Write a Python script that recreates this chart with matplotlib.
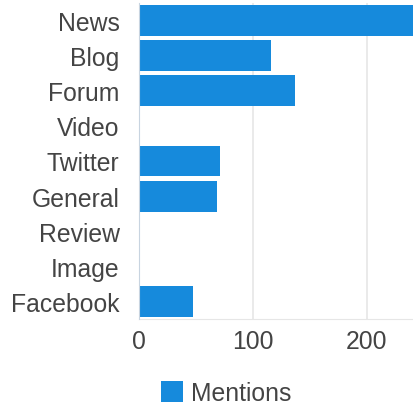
import matplotlib
matplotlib.use("Agg")
import matplotlib.pyplot as plt

plt.rcParams['font.family'] = ['Liberation Sans', 'DejaVu Sans']

categories = ['News', 'Blog', 'Forum', 'Video', 'Twitter', 'General', 'Review', 'Image', 'Facebook']
mentions = [260, 116, 137, 0, 71, 68, 0, 0, 47]
xticks = [0, 100, 200]

bar_color = '#168ADC'
text_color = '#444444'

fig = plt.figure(figsize=(4.13, 4.06), dpi=100)
ax = fig.add_axes([139 / 413, 86 / 406, 274 / 413, 316 / 406])

ypos = list(range(len(categories)))
bars = ax.barh(ypos, mentions, height=0.88, color=bar_color,
               linewidth=0, label='Mentions', zorder=3)
ax.set_ylim(len(categories) - 0.5, -0.5)
ax.set_xlim(0, 240.4)
ax.set_yticks(ypos)
ax.set_yticklabels(categories)
ax.set_xticks(xticks)

ax.grid(axis='x', color='#e6e6e6', linewidth=1.2, zorder=0)
for s in ['top', 'right']:
    ax.spines[s].set_visible(False)
ax.spines['left'].set_color('#c8d4e0')
ax.spines['left'].set_zorder(4)
ax.spines['bottom'].set_color('#e6e6e6')
ax.tick_params(axis='both', length=0, labelsize=17.8, labelcolor=text_color)
ax.tick_params(axis='y', pad=14)
ax.tick_params(axis='x', pad=7)

fig.legend(handles=[bars], labels=['Mentions'], loc='center',
           bbox_to_anchor=(226 / 413, 12 / 406), frameon=False,
           fontsize=17.8, labelcolor=text_color, handlelength=0.9,
           handleheight=0.9, handletextpad=0.3)

fig.savefig('out.png', dpi=100)
